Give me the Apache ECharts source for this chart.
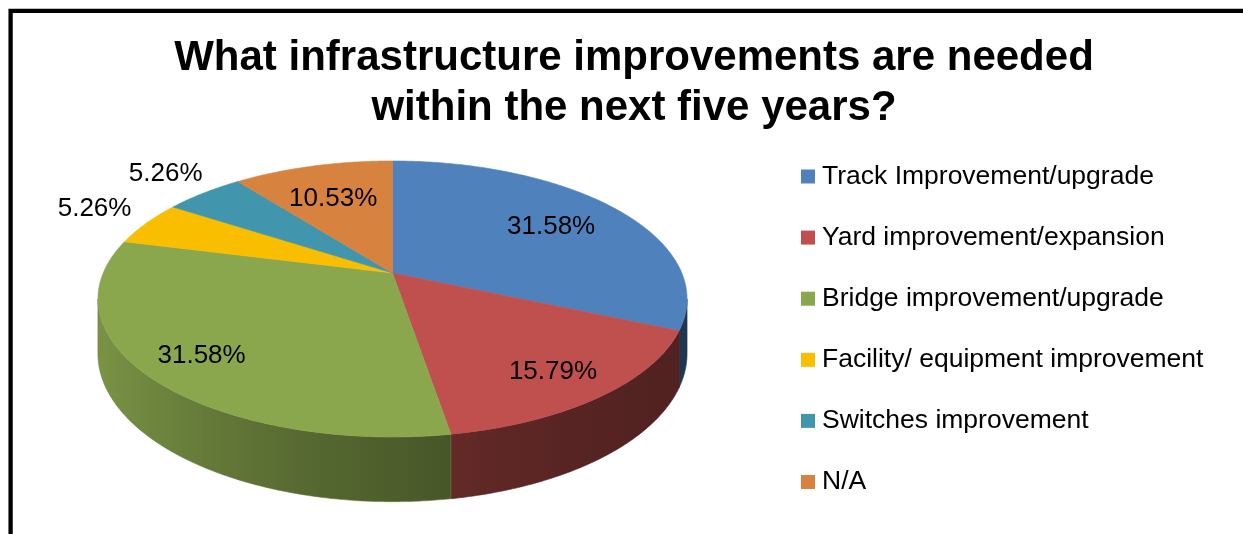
<!DOCTYPE html>
<html>
<head>
<meta charset="utf-8">
<script src="https://cdn.jsdelivr.net/npm/echarts@6/dist/echarts.min.js"></script>
<style>
  html, body { margin: 0; padding: 0; background: #ffffff; }
  #chart { width: 1243px; height: 534px; }
</style>
</head>
<body>
<div id="chart"></div>
<script>
// ---- data ----
const categories = [
  'Track Improvement/upgrade',
  'Yard improvement/expansion',
  'Bridge improvement/upgrade',
  'Facility/ equipment improvement',
  'Switches improvement',
  'N/A'
];
const shares = [31.58, 15.79, 31.58, 5.26, 5.26, 10.53];
const colors = ['#4F81BD', '#C0504D', '#8AA74E', '#FABE00', '#4196AE', '#D8823F'];
const titleLines = ['What infrastructure improvements are needed', 'within the next five years?'];

// ---- 3-D pie geometry (tilted disc seen in perspective) ----
const disc = { cx: 392.5, cy: 273, rx: 289.3, ry: 133.1, persp: -0.188, depth: 52.6 };
const FONT = '"Liberation Sans", Arial, sans-serif';
const total = shares.reduce((a, b) => a + b, 0);
const TAU = Math.PI * 2;

// phi: clockwise angle from 12 o'clock; r: radius fraction; drop: vertical offset of the plane
function project(phi, r, drop) {
  const u = r * Math.sin(phi);
  const v = -r * Math.cos(phi);
  const w = 1 + disc.persp * v;
  return [disc.cx + disc.rx * u / w, disc.cy + (disc.ry * v + drop) / w];
}

function arc(a0, a1, r, drop) {
  const n = Math.max(2, Math.ceil((a1 - a0) / (Math.PI / 360)));
  const pts = [];
  for (let i = 0; i <= n; i++) pts.push(project(a0 + (a1 - a0) * i / n, r, drop));
  return pts;
}

function rgb(hex) {
  const n = parseInt(hex.slice(1), 16);
  return [(n >> 16) & 255, (n >> 8) & 255, n & 255];
}
function scaled(hex, f) {
  const c = rgb(hex).map(x => Math.round(Math.min(255, x * f)));
  return 'rgb(' + c.join(',') + ')';
}
// side-wall shading: lit from the left, darkening toward the front-right
const LIGHT = 259 * Math.PI / 180;
function wallShade(phi) {
  const k = (1 + Math.cos(phi - LIGHT)) / 2;
  return 0.42 + 0.46 * Math.pow(k, 2.3);
}

// front half of the rim that faces the viewer
const rimFrom = Math.acos(disc.persp);
const rimTo = TAU - rimFrom;

function renderSlice(params, api) {
  const i = params.seriesIndex;
  const start = api.value(0) / total * TAU;
  const end = (api.value(0) + api.value(1)) / total * TAU;
  const color = colors[i];
  const children = [];

  // visible outer wall
  const a0 = Math.max(start, rimFrom), a1 = Math.min(end, rimTo);
  if (a1 > a0) {
    const topEdge = arc(a0, a1, 1, 0);
    const botEdge = arc(a0, a1, 1, disc.depth).reverse();
    const xs = topEdge.map(p => p[0]);
    const xL = Math.min(...xs), xR = Math.max(...xs);
    const stops = [];
    const n = 24;
    for (let k = 0; k <= n; k++) {
      const phi = a0 + (a1 - a0) * k / n;
      const x = project(phi, 1, 0)[0];
      stops.push({ offset: xR > xL ? (x - xL) / (xR - xL) : 0, color: scaled(color, wallShade(phi)) });
    }
    stops.sort((p, q) => p.offset - q.offset);
    children.push({
      type: 'polygon',
      shape: { points: topEdge.concat(botEdge) },
      style: {
        fill: { type: 'linear', x: xL, y: 0, x2: xR, y2: 0, global: true, colorStops: stops },
        stroke: scaled(color, wallShade((a0 + a1) / 2)), lineWidth: 0.6
      }
    });
  }

  // top face
  const face = [project(0, 0, 0)].concat(arc(start, end, 1, 0));
  children.push({
    type: 'polygon',
    shape: { points: face },
    style: { fill: color, stroke: color, lineWidth: 0.6 }
  });

  // percentage label: small slices sit outside the rim, above-left of it
  const mid = (start + end) / 2;
  const vMid = -Math.cos(mid);
  const outside = api.value(1) / total < 0.08;
  const r = outside ? 1.22 : 0.75 + 0.07 * vMid;
  const pos = project(mid, r, 0);
  children.push({
    type: 'text',
    x: pos[0] + (outside ? -2 : -2), y: pos[1] + (outside ? -4 : 2.5),
    style: {
      text: api.value(1).toFixed(2) + '%',
      fill: '#000000',
      font: '26px ' + FONT,
      align: 'center',
      verticalAlign: 'middle'
    },
    z2: 10
  });

  return { type: 'group', children: children };
}

let running = 0;
const series = categories.map((name, i) => {
  const item = [running, shares[i]];
  running += shares[i];
  return {
    type: 'custom',
    name: name,
    coordinateSystem: 'none',
    itemStyle: { color: colors[i] },
    renderItem: renderSlice,
    data: [item],
    silent: true,
    animation: false
  };
});

const chart = echarts.init(document.getElementById('chart'), null, { renderer: 'canvas' });
chart.setOption({
  backgroundColor: '#ffffff',
  animation: false,
  title: {
    text: titleLines.join('\n'),
    left: 629,
    top: 28,
    textAlign: 'center',
    textStyle: { fontFamily: FONT, fontSize: 42, fontWeight: 'bold', color: '#000000', lineHeight: 50 }
  },
  legend: {
    orient: 'vertical',
    left: 796,
    top: 158,
    icon: 'rect',
    itemWidth: 14,
    itemHeight: 14,
    itemGap: 34.1,
    selectedMode: false,
    data: categories,
    textStyle: { fontFamily: FONT, fontSize: 26.5, color: '#000000', lineHeight: 26, padding: [0, 0, 0, 2] }
  },
  graphic: [{
    type: 'rect',
    silent: true,
    shape: { x: 10.6, y: 10.8, width: 1300, height: 600 },
    style: { fill: null, stroke: '#000000', lineWidth: 4.3 }
  }],
  series: series
});
</script>
</body>
</html>
